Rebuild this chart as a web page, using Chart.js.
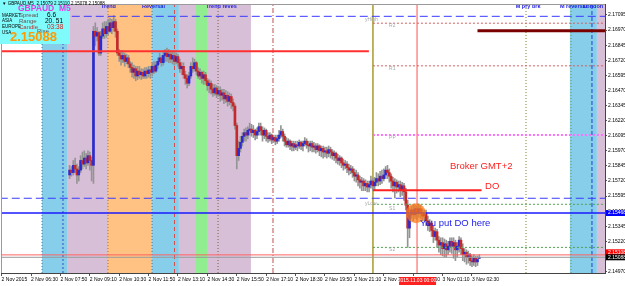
<!DOCTYPE html>
<html><head><meta charset="utf-8">
<script src="https://cdn.jsdelivr.net/npm/chart.js@4.4.1/dist/chart.umd.min.js"></script>
<style>html,body{margin:0;padding:0;background:#fff;overflow:hidden}canvas{display:block}</style>
</head><body>
<canvas id="c" width="625" height="286"></canvas>
<script>
// ---------- DATA ----------
const firstBar = 37; // bar index of first visible candle (M5 bars from the left edge)
const open = [
2.1577,2.1581,2.1579,2.1585,2.1582,2.1577,2.1581,2.1589,2.1586,2.1591,
2.1587,2.1593,2.1589,2.1585,2.1696,2.1692,2.1695,2.1678,2.1692,2.1698,
2.1694,2.1700,2.1696,2.1703,2.1699,2.1704,2.1696,2.1678,2.1676,2.1673,
2.1676,2.1671,2.1674,2.1669,2.1666,2.1662,2.1665,2.1659,2.1663,2.1660,
2.1662,2.1659,2.1663,2.1661,2.1664,2.1662,2.1667,2.1663,2.1668,2.1671,
2.1674,2.1670,2.1676,2.1678,2.1675,2.1677,2.1673,2.1676,2.1671,2.1675,
2.1670,2.1665,2.1667,2.1660,2.1657,2.1653,2.1659,2.1667,2.1665,2.1670,
2.1663,2.1659,2.1662,2.1657,2.1660,2.1655,2.1651,2.1653,2.1648,2.1645,
2.1649,2.1644,2.1647,2.1643,2.1645,2.1640,2.1643,2.1638,2.1642,2.1637,
2.1634,2.1618,2.1593,2.1599,2.1604,2.1609,2.1612,2.1610,2.1614,2.1615,
2.1612,2.1614,2.1610,2.1613,2.1617,2.1614,2.1610,2.1614,2.1609,2.1607,
2.1610,2.1606,2.1608,2.1605,2.1607,2.1610,2.1613,2.1609,2.1605,2.1602,
2.1605,2.1601,2.1603,2.1600,2.1602,2.1601,2.1604,2.1601,2.1603,2.1605,
2.1602,2.1601,2.1603,2.1600,2.1601,2.1598,2.1601,2.1597,2.1599,2.1596,
2.1597,2.1595,2.1598,2.1596,2.1593,2.1595,2.1591,2.1589,2.1591,2.1587,
2.1585,2.1586,2.1583,2.1581,2.1582,2.1579,2.1576,2.1577,2.1573,2.1571,
2.1572,2.1568,2.1570,2.1567,2.1569,2.1572,2.1568,2.1571,2.1574,2.1572,
2.1576,2.1574,2.1577,2.1581,2.1579,2.1576,2.1572,2.1568,2.1571,2.1567,
2.1569,2.1565,2.1568,2.1563,2.1552,2.1533,2.1544,2.1548,2.1544,2.1549,
2.1545,2.1549,2.1546,2.1543,2.1545,2.1539,2.1535,2.1537,2.1531,2.1526,
2.1530,2.1523,2.1519,2.1521,2.1516,2.1520,2.1515,2.1518,2.1522,2.1518,
2.1521,2.1515,2.1518,2.1523,2.1516,2.1511,2.1513,2.1509,2.1511,2.1506,
2.1505,2.1508,2.1505,2.15079];
const high = [
2.1585,2.1584,2.1589,2.1591,2.1586,2.1584,2.1593,2.1596,2.1597,2.1595,
2.1597,2.1596,2.1592,2.1700,2.1703,2.1699,2.1696,2.1696,2.1703,2.1704,
2.1704,2.1706,2.1707,2.1706,2.1709,2.1706,2.1698,2.1681,2.1680,2.1680,
2.1678,2.1677,2.1676,2.1671,2.1670,2.1668,2.1667,2.1667,2.1667,2.1665,
2.1665,2.1666,2.1666,2.1667,2.1667,2.1670,2.1671,2.1671,2.1674,2.1678,
2.1676,2.1680,2.1681,2.1682,2.1681,2.1680,2.1680,2.1680,2.1678,2.1677,
2.1673,2.1670,2.1670,2.1663,2.1660,2.1662,2.1670,2.1674,2.1673,2.1671,
2.1666,2.1665,2.1663,2.1663,2.1662,2.1657,2.1656,2.1655,2.1652,2.1652,
2.1651,2.1650,2.1650,2.1648,2.1648,2.1647,2.1646,2.1645,2.1644,2.1640,
2.1636,2.1620,2.1605,2.1609,2.1612,2.1615,2.1616,2.1617,2.1620,2.1619,
2.1618,2.1615,2.1616,2.1620,2.1620,2.1617,2.1616,2.1615,2.1612,2.1612,
2.1611,2.1610,2.1610,2.1610,2.1614,2.1618,2.1615,2.1611,2.1608,2.1607,
2.1606,2.1605,2.1605,2.1605,2.1605,2.1606,2.1605,2.1605,2.1608,2.1607,
2.1605,2.1605,2.1605,2.1604,2.1603,2.1603,2.1602,2.1601,2.1601,2.1600,
2.1600,2.1601,2.1600,2.1598,2.1597,2.1596,2.1594,2.1593,2.1592,2.1590,
2.1589,2.1588,2.1586,2.1585,2.1584,2.1582,2.1581,2.1579,2.1576,2.1575,
2.1574,2.1573,2.1572,2.1572,2.1576,2.1574,2.1575,2.1579,2.1578,2.1580,
2.1581,2.1582,2.1584,2.1585,2.1582,2.1578,2.1575,2.1574,2.1573,2.1572,
2.1572,2.1571,2.1570,2.1566,2.1556,2.1549,2.1551,2.1552,2.1552,2.1551,
2.1553,2.1552,2.1549,2.1548,2.1548,2.1543,2.1540,2.1539,2.1535,2.1533,
2.1532,2.1526,2.1525,2.1525,2.1524,2.1523,2.1522,2.1525,2.1525,2.1525,
2.1523,2.1521,2.1526,2.1525,2.1520,2.1516,2.1515,2.1514,2.1512,2.1510,
2.1511,2.1510,2.1510,2.15110];
const low = [
2.1574,2.1576,2.1577,2.1579,2.1570,2.1572,2.1579,2.1582,2.1584,2.1582,
2.1585,2.1581,2.1572,2.1570,2.1684,2.1688,2.1676,2.1676,2.1690,2.1690,
2.1691,2.1693,2.1695,2.1694,2.1696,2.1691,2.1676,2.1671,2.1668,2.1670,
2.1667,2.1669,2.1666,2.1662,2.1658,2.1657,2.1655,2.1656,2.1657,2.1656,
2.1657,2.1657,2.1657,2.1658,2.1657,2.1659,2.1661,2.1662,2.1665,2.1669,
2.1667,2.1668,2.1671,2.1671,2.1670,2.1670,2.1669,2.1668,2.1669,2.1667,
2.1662,2.1660,2.1657,2.1652,2.1649,2.1651,2.1657,2.1662,2.1663,2.1660,
2.1657,2.1656,2.1653,2.1652,2.1652,2.1647,2.1645,2.1644,2.1642,2.1643,
2.1641,2.1642,2.1638,2.1639,2.1636,2.1637,2.1634,2.1635,2.1632,2.1630,
2.1615,2.1582,2.1589,2.1596,2.1601,2.1605,2.1605,2.1607,2.1610,2.1609,
2.1608,2.1606,2.1607,2.1610,2.1610,2.1605,2.1607,2.1605,2.1604,2.1605,
2.1603,2.1604,2.1602,2.1603,2.1605,2.1608,2.1605,2.1601,2.1600,2.1600,
2.1598,2.1597,2.1597,2.1598,2.1597,2.1599,2.1598,2.1597,2.1601,2.1599,
2.1596,2.1597,2.1596,2.1596,2.1595,2.1596,2.1593,2.1592,2.1591,2.1592,
2.1591,2.1592,2.1591,2.1590,2.1589,2.1587,2.1586,2.1585,2.1583,2.1581,
2.1582,2.1579,2.1577,2.1578,2.1575,2.1572,2.1571,2.1568,2.1566,2.1564,
2.1564,2.1564,2.1563,2.1563,2.1566,2.1564,2.1564,2.1568,2.1568,2.1569,
2.1570,2.1572,2.1574,2.1574,2.1571,2.1566,2.1563,2.1558,2.1562,2.1563,
2.1559,2.1560,2.1556,2.1548,2.1517,2.1525,2.1541,2.1539,2.1541,2.1540,
2.1542,2.1541,2.1539,2.1539,2.1535,2.1531,2.1530,2.1526,2.1521,2.1523,
2.1517,2.1513,2.1511,2.1510,2.1509,2.1509,2.1511,2.1513,2.1512,2.1508,
2.1506,2.1509,2.1513,2.1511,2.1506,2.1505,2.1503,2.1504,2.1502,2.1501,
2.1502,2.1501,2.1502,2.15078];
const close = [
2.1581,2.1579,2.1585,2.1582,2.1577,2.1581,2.1589,2.1586,2.1591,2.1587,
2.1593,2.1589,2.1585,2.1696,2.1692,2.1695,2.1678,2.1692,2.1698,2.1694,
2.1700,2.1696,2.1703,2.1699,2.1704,2.1696,2.1678,2.1676,2.1673,2.1676,
2.1671,2.1674,2.1669,2.1666,2.1662,2.1665,2.1659,2.1663,2.1660,2.1662,
2.1659,2.1663,2.1661,2.1664,2.1662,2.1667,2.1663,2.1668,2.1671,2.1674,
2.1670,2.1676,2.1678,2.1675,2.1677,2.1673,2.1676,2.1671,2.1675,2.1670,
2.1665,2.1667,2.1660,2.1657,2.1653,2.1659,2.1667,2.1665,2.1670,2.1663,
2.1659,2.1662,2.1657,2.1660,2.1655,2.1651,2.1653,2.1648,2.1645,2.1649,
2.1644,2.1647,2.1643,2.1645,2.1640,2.1643,2.1638,2.1642,2.1637,2.1634,
2.1618,2.1593,2.1599,2.1604,2.1609,2.1612,2.1610,2.1614,2.1615,2.1612,
2.1614,2.1610,2.1613,2.1617,2.1614,2.1610,2.1614,2.1609,2.1607,2.1610,
2.1606,2.1608,2.1605,2.1607,2.1610,2.1613,2.1609,2.1605,2.1602,2.1605,
2.1601,2.1603,2.1600,2.1602,2.1601,2.1604,2.1601,2.1603,2.1605,2.1602,
2.1601,2.1603,2.1600,2.1601,2.1598,2.1601,2.1597,2.1599,2.1596,2.1597,
2.1595,2.1598,2.1596,2.1593,2.1595,2.1591,2.1589,2.1591,2.1587,2.1585,
2.1586,2.1583,2.1581,2.1582,2.1579,2.1576,2.1577,2.1573,2.1571,2.1572,
2.1568,2.1570,2.1567,2.1569,2.1572,2.1568,2.1571,2.1574,2.1572,2.1576,
2.1574,2.1577,2.1581,2.1579,2.1576,2.1572,2.1568,2.1571,2.1567,2.1569,
2.1565,2.1568,2.1563,2.1552,2.1533,2.1544,2.1548,2.1544,2.1549,2.1545,
2.1549,2.1546,2.1543,2.1545,2.1539,2.1535,2.1537,2.1531,2.1526,2.1530,
2.1523,2.1519,2.1521,2.1516,2.1520,2.1515,2.1518,2.1522,2.1518,2.1521,
2.1515,2.1518,2.1523,2.1516,2.1511,2.1513,2.1509,2.1511,2.1506,2.1505,
2.1508,2.1505,2.1507,2.15088];

const timeTickBars = [0,16,32,48,64,80,96,112,128,144,160,176,192,208,224,240,256];
const timeTickLabels = ['2 Nov 2015','2 Nov 06:30','2 Nov 07:50','2 Nov 09:10','2 Nov 10:30','2 Nov 11:50','2 Nov 13:10','2 Nov 14:30','2 Nov 15:50','2 Nov 17:10','2 Nov 18:30','2 Nov 19:50','2 Nov 21:10','2 Nov 22:30','2 Nov 23:50','3 Nov 01:10','3 Nov 02:30'];
const priceTicks = [2.14970,2.15095,2.15220,2.15345,2.15470,2.15595,2.15720,2.15845,2.15970,2.16095,2.16220,2.16345,2.16470,2.16595,2.16720,2.16845,2.16970,2.17095];
const priceMin = 2.14958, priceMax = 2.17186;
const barMin = -0.33, barMax = 328.4;

// session bands (bar index ranges)
const bandFrom = [22, 35.6, 57.9, 81.9, 96.5, 105.8, 111.8, 309.3, 324];
const bandTo   = [35.6, 57.9, 81.9, 96.5, 105.8, 111.8, 135.7, 324, 329];
const bandKind = ['blue','thistle','orange','blue','thistle','green','thistle','blue','thistle'];

// horizontal levels
const hLevelPrice = [2.17084, 2.17027, 2.16965, 2.16794, 2.16674, 2.16101, 2.15643, 2.15577, 2.15527, 2.15455, 2.15170, 2.15108, 2.15088];
const hLevelFrom  = [-1, 202.1, 259, -1, 202.1, 202.1, 202.1, -1, 202.1, -1, 202.1, -1, -1];
const hLevelTo    = [330, 330, 330, 199.9, 330, 330, 261.2, 330, 330, 330, 330, 330, 330];
// vertical lines (bar index)
const vLineBars = [22, 33.4, 57.9, 81.9, 94.1, 117.8, 147.7, 202.1, 226.1, 285.4, 309.9, 321.3];

// labels
const topLabelText = ['Trend','Reversal','Trend reves','M pry brk','M reversal','London'];
const topLabelBar  = [54.1, 76.4, 111.2, 279.8, 303.9, 316.4];
const pivotText  = ['yHigh','R2','R1','PP','yLow','S1','S2'];
const pivotBar   = [197.8, 210.9, 210.9, 210.9, 197.8, 210.9, 210.9];
const pivotPrice = [2.17054, 2.17004, 2.16649, 2.16080, 2.15535, 2.15494, 2.15148];
const noteText  = ['Broker GMT+2', 'DO', 'You put DO here'];
const noteBar   = [244.0, 263.1, 227.7];
const notePrice = [2.15841, 2.15676, 2.15370];
const circleBar = 225.5, circlePrice = 2.15453;
const dayLineLabel = '2015.11.03 00:00', dayLineBar = 226.1;
const bluePriceLabel = 2.15468, bluePriceLevel = 2.15455, askPrice = 2.15108, bidPrice = 2.15088;

// ---------- STYLES ----------
const BAND_COLORS = {blue:'#87ceeb', thistle:'#d8bfd8', orange:'#ffc283', green:'#90ee90'};
const H_STYLE = [
 {c:'#3a3aff',w:1,d:[8,4]}, {c:'#d06060',w:1,d:[2,2]}, {c:'#7a0000',w:3,d:[]}, {c:'#ff3030',w:2,d:[]},
 {c:'#d06060',w:1,d:[2,2]}, {c:'#ff70ff',w:2,d:[2,2]}, {c:'#ff2020',w:2,d:[]}, {c:'#3a3aff',w:1,d:[8,4]},
 {c:'#50a050',w:1,d:[2,2]}, {c:'#1a1aff',w:1.4,d:[]}, {c:'#50a050',w:1,d:[2,2]}, {c:'#ff6060',w:1,d:[]},
 {c:'#9a9a9a',w:1,d:[]}];
const V_STYLE = [
 {c:'#4a7090',w:1,d:[1,2]}, {c:'#3050c0',w:1,d:[2,2]}, {c:'#b07030',w:1,d:[1,2]}, {c:'#507090',w:1,d:[1,2]},
 {c:'#d05050',w:1,d:[4,3]}, {c:'#806040',w:1,d:[1,2]}, {c:'#c05050',w:1,d:[5,2,1,2]}, {c:'#a89a2a',w:1.5,d:[]},
 {c:'#ff5050',w:1,d:[]}, {c:'#808030',w:1,d:[1,2]}, {c:'#60a040',w:1,d:[1,2]}, {c:'#2040d0',w:1,d:[4,2]}];
const FONT = '"Liberation Sans", Arial, sans-serif';

// ---------- DATASETS ----------
const barX = open.map((_, k) => firstBar + k);
const datasets = [];
hLevelPrice.forEach((p, k) => datasets.push({
  type:'line', data:[{x:hLevelFrom[k], y:p}, {x:hLevelTo[k], y:p}],
  borderColor:H_STYLE[k].c, borderWidth:H_STYLE[k].w, borderDash:H_STYLE[k].d,
  pointRadius:0, order:1, tension:0
}));
vLineBars.forEach((b, k) => datasets.push({
  type:'line', data:[{x:b, y:priceMin}, {x:b, y:priceMax}],
  borderColor:V_STYLE[k].c, borderWidth:V_STYLE[k].w, borderDash:V_STYLE[k].d,
  pointRadius:0, order:5, tension:0
}));
datasets.push({
  type:'bar', data: barX.map((x, k) => ({x, y:[low[k], high[k]]})),
  backgroundColor:'#949494', barThickness:1, grouped:false, order:3, borderWidth:0
});
datasets.push({
  type:'bar', data: barX.map((x, k) => ({x, y:[open[k], close[k]]})),
  backgroundColor: barX.map((_, k) => close[k] >= open[k] ? '#2b2bd0' : '#c42a2a'),
  barThickness:2, grouped:false, minBarLength:1, order:2, borderWidth:0
});

// ---------- PLUGINS ----------
const bandsPlugin = {
  id:'bands',
  beforeDatasetsDraw(chart){
    const {ctx, chartArea:a, scales:{x}} = chart;
    ctx.save();
    ctx.beginPath(); ctx.rect(a.left, a.top, a.right - a.left, a.bottom - a.top); ctx.clip();
    bandFrom.forEach((f, k) => {
      const x0 = x.getPixelForValue(f), x1 = x.getPixelForValue(bandTo[k]);
      ctx.fillStyle = BAND_COLORS[bandKind[k]];
      ctx.fillRect(x0, a.top, x1 - x0, a.bottom - a.top);
    });
    ctx.restore();
  }
};
const textPlugin = {
  id:'texts',
  afterDatasetsDraw(chart){
    const {ctx, chartArea:a, scales:{x, y}} = chart;
    ctx.save();
    ctx.beginPath();
    ctx.arc(x.getPixelForValue(circleBar), y.getPixelForValue(circlePrice), 10, 0, Math.PI*2);
    ctx.fillStyle = 'rgba(255,120,20,0.72)'; ctx.fill();
    ctx.textBaseline = 'middle'; ctx.textAlign = 'left';
    ctx.font = '5px ' + FONT; ctx.fillStyle = '#a8a8a8';
    pivotText.forEach((t, k) => ctx.fillText(t, x.getPixelForValue(pivotBar[k]), y.getPixelForValue(pivotPrice[k])));
    ctx.font = 'bold 5.5px ' + FONT; ctx.fillStyle = '#1a1ae0';
    topLabelText.forEach((t, k) => ctx.fillText(t, x.getPixelForValue(topLabelBar[k]), a.top + 2));
    const noteColors = ['#ff2020', '#ff2020', '#1a1ae8'];
    ctx.font = '9.5px ' + FONT;
    noteText.forEach((t, k) => { ctx.fillStyle = noteColors[k]; ctx.fillText(t, x.getPixelForValue(noteBar[k]), y.getPixelForValue(notePrice[k])); });
    ctx.restore();
  },
  afterDraw(chart){
    const {ctx, chartArea:a, scales:{x, y}} = chart;
    ctx.save();
    ctx.strokeStyle = '#9a9a9a'; ctx.lineWidth = 1;
    ctx.beginPath(); ctx.moveTo(a.left, a.top + 0.5); ctx.lineTo(a.right, a.top + 0.5);
    ctx.moveTo(a.left + 0.5, a.top); ctx.lineTo(a.left + 0.5, a.bottom); ctx.stroke();
    ctx.strokeStyle = '#444'; ctx.beginPath();
    ctx.moveTo(a.left, a.bottom + 0.5); ctx.lineTo(a.right + 1, a.bottom + 0.5);
    ctx.moveTo(a.right + 0.5, a.top); ctx.lineTo(a.right + 0.5, a.bottom + 1); ctx.stroke();
    ctx.font = '5px ' + FONT; ctx.textBaseline = 'middle'; ctx.textAlign = 'left';
    const box = (price, yy, bg) => {
      ctx.fillStyle = bg; ctx.fillRect(a.right + 1, yy - 3, 20, 6);
      ctx.fillStyle = '#fff'; ctx.fillText(price.toFixed(5), a.right + 3, yy);
    };
    box(bluePriceLabel, y.getPixelForValue(bluePriceLevel), '#0000ff');
    const yb = y.getPixelForValue(bidPrice);
    const ya = Math.min(y.getPixelForValue(askPrice), yb - 5);
    box(askPrice, ya, '#ff0000');
    box(bidPrice, yb, '#000000');
    const xd = x.getPixelForValue(dayLineBar);
    ctx.fillStyle = '#ff2020'; ctx.fillRect(xd - 18, a.bottom + 4, 37, 8);
    ctx.fillStyle = '#fff'; ctx.textAlign = 'center'; ctx.fillText(dayLineLabel, xd, a.bottom + 8);
    ctx.textAlign = 'left';
    ctx.fillStyle = '#80fbfb'; ctx.fillRect(0, 0, 70, 44);
    ctx.font = 'bold 8.5px ' + FONT; ctx.fillStyle = '#e23ce2'; ctx.fillText('GBPAUD  M5', 18, 9);
    ctx.font = '4.5px ' + FONT; ctx.fillStyle = '#000';
    ctx.fillText('MARKET', 2, 15.5); ctx.fillText('ASIA', 2, 21); ctx.fillText('EUROPE', 2, 27); ctx.fillText('USA', 2, 32.5);
    ctx.font = '6px ' + FONT; ctx.fillStyle = '#6a5050';
    ctx.fillText('Spread', 19, 15.5); ctx.fillText('Range', 19, 21); ctx.fillText('Rise', 37, 31.5);
    ctx.fillStyle = '#c03030'; ctx.fillText('Candle', 19, 27);
    ctx.font = '6.5px ' + FONT; ctx.fillStyle = '#000';
    ctx.fillText('6.6', 47, 15.5); ctx.fillText('20. 51', 45, 21);
    ctx.fillStyle = '#d02020'; ctx.fillText('03:38', 47, 27);
    ctx.font = 'bold 13px ' + FONT; ctx.fillStyle = '#ff9a00'; ctx.fillText('2.15088', 10, 37.5);
    ctx.font = '4.5px ' + FONT; ctx.fillStyle = '#000';
    ctx.fillText('\u25BC GBPAUD,M5  2.15079 2.15110 2.15078 2.15088', 2, 4);
    ctx.restore();
  }
};

// ---------- CHART ----------
new Chart(document.getElementById('c'), {
  type:'bar',
  data:{datasets},
  options:{
    responsive:false, animation:false, devicePixelRatio:1,
    layout:{padding:{left:1, top:3, right:0, bottom:0}},
    plugins:{legend:{display:false}, tooltip:{enabled:false}},
    scales:{
      x:{
        type:'linear', min:barMin, max:barMax, offset:false,
        afterBuildTicks(s){ s.ticks = timeTickBars.map(v => ({value:v})); },
        afterFit(s){ s.height = 13; },
        ticks:{ callback:(v) => { const k = timeTickBars.indexOf(v); return k >= 0 ? timeTickLabels[k] : ''; },
                font:{family:FONT, size:5}, color:'#000', align:'start', maxRotation:0, autoSkip:false, padding:1 },
        grid:{ drawOnChartArea:false, drawTicks:true, tickLength:3, color:'#555', offset:false },
        border:{ display:false }
      },
      y:{
        type:'linear', position:'right', min:priceMin, max:priceMax, beginAtZero:false,
        afterBuildTicks(s){ s.ticks = priceTicks.map(v => ({value:v})); },
        afterFit(s){ s.width = 20; },
        ticks:{ callback:(v) => v.toFixed(5), font:{family:FONT, size:5}, color:'#000', padding:1 },
        grid:{ drawOnChartArea:false, drawTicks:true, tickLength:2, color:'#555' },
        border:{ display:false }
      }
    }
  },
  plugins:[bandsPlugin, textPlugin]
});
</script>
</body></html>
